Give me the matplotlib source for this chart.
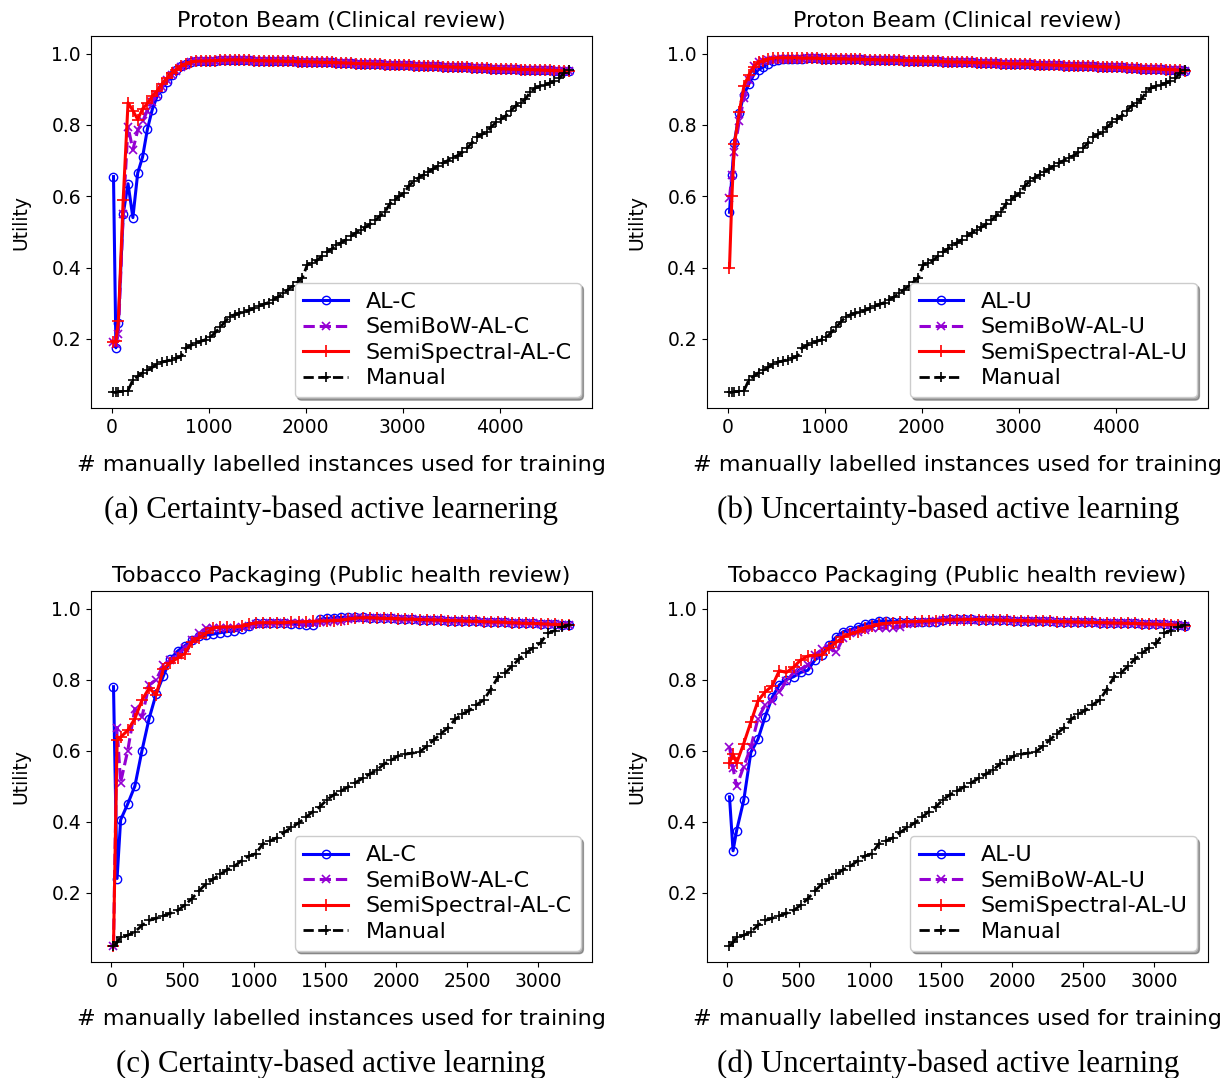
import matplotlib
matplotlib.use('Agg')
import matplotlib.pyplot as plt

# number of manually labelled instances at each step
pb_x = [15, 40] + list(range(65, 4716, 50))
tb_x = [15, 40] + list(range(65, 3216, 50))

# ---- Proton Beam ----
pb_manual = [0.050, 0.050, 0.052, 0.053, 0.055, 0.085, 0.095, 0.105, 0.112, 0.120,
             0.130, 0.135, 0.138, 0.142, 0.146, 0.152, 0.175, 0.182, 0.188, 0.193,
             0.198, 0.205, 0.218, 0.232, 0.248, 0.262, 0.268, 0.272, 0.276, 0.280,
             0.286, 0.292, 0.297, 0.302, 0.310, 0.318, 0.328, 0.338, 0.348, 0.360,
             0.372, 0.408, 0.413, 0.420, 0.432, 0.443, 0.452, 0.462, 0.470, 0.478,
             0.488, 0.497, 0.505, 0.513, 0.522, 0.532, 0.545, 0.555, 0.578, 0.590,
             0.600, 0.610, 0.630, 0.642, 0.652, 0.660, 0.668, 0.677, 0.685, 0.693,
             0.700, 0.707, 0.714, 0.723, 0.735, 0.750, 0.766, 0.773, 0.780, 0.795,
             0.807, 0.816, 0.826, 0.840, 0.853, 0.862, 0.872, 0.892, 0.903, 0.908,
             0.912, 0.917, 0.922, 0.930, 0.946, 0.953]

# certainty (first 17 steps), then plateau shared by the three AL curves
pb_alc_head = [0.655, 0.175, 0.245, 0.55, 0.635, 0.54, 0.665, 0.71, 0.788, 0.843,
               0.88, 0.904, 0.92, 0.94, 0.955, 0.965, 0.972]
pb_bowc_head = [0.19, 0.185, 0.215, 0.55, 0.795, 0.73, 0.785, 0.81, 0.84, 0.865,
                0.885, 0.905, 0.925, 0.94, 0.952, 0.962, 0.968]
pb_specc_head = [0.19, 0.195, 0.25, 0.59, 0.862, 0.84, 0.815, 0.845, 0.86, 0.88,
                 0.895, 0.915, 0.93, 0.945, 0.955, 0.965, 0.972]
pb_tail_c = [0.976, 0.978, 0.979, 0.979, 0.980, 0.980, 0.981, 0.981, 0.982, 0.982,
             0.982, 0.981, 0.981, 0.980, 0.980, 0.980, 0.979, 0.979, 0.979, 0.978,
             0.978, 0.978, 0.977, 0.977, 0.977, 0.976, 0.976, 0.975, 0.975, 0.975,
             0.974, 0.974, 0.973, 0.973, 0.972, 0.972, 0.971, 0.971, 0.970, 0.970,
             0.969, 0.969, 0.968, 0.968, 0.967, 0.967, 0.966, 0.966, 0.965, 0.965,
             0.964, 0.964, 0.963, 0.963, 0.962, 0.962, 0.961, 0.961, 0.960, 0.960,
             0.959, 0.959, 0.958, 0.958, 0.957, 0.957, 0.956, 0.956, 0.955, 0.955,
             0.955, 0.954, 0.954, 0.953, 0.953, 0.952, 0.952, 0.951, 0.951]

# uncertainty
pb_alu_head = [0.555, 0.66, 0.75, 0.833, 0.885, 0.915, 0.94, 0.955, 0.962, 0.972,
               0.98, 0.983, 0.985, 0.985, 0.986, 0.986, 0.986]
pb_bowu_head = [0.595, 0.66, 0.725, 0.81, 0.875, 0.925, 0.965, 0.975, 0.978, 0.982,
                0.983, 0.985, 0.985, 0.985, 0.986, 0.986, 0.986]
pb_specu_head = [0.40, 0.60, 0.745, 0.835, 0.91, 0.94, 0.962, 0.975, 0.98, 0.984,
                 0.987, 0.988, 0.988, 0.988, 0.988, 0.988, 0.987]
pb_tail_u = [0.987, 0.987, 0.987, 0.986, 0.986, 0.986, 0.985, 0.985, 0.985, 0.984,
             0.984, 0.984, 0.983, 0.983, 0.983, 0.982, 0.982, 0.981, 0.981, 0.981,
             0.980, 0.980, 0.980, 0.979, 0.979, 0.978, 0.978, 0.978, 0.977, 0.977,
             0.976, 0.976, 0.976, 0.975, 0.975, 0.974, 0.974, 0.974, 0.973, 0.973,
             0.972, 0.972, 0.971, 0.971, 0.971, 0.970, 0.970, 0.969, 0.969, 0.968,
             0.968, 0.967, 0.967, 0.966, 0.966, 0.966, 0.965, 0.965, 0.964, 0.964,
             0.963, 0.963, 0.962, 0.962, 0.961, 0.961, 0.960, 0.960, 0.959, 0.958,
             0.958, 0.957, 0.957, 0.956, 0.955, 0.955, 0.954, 0.953, 0.952]

# ---- Tobacco Packaging ----
tb_manual = [0.050, 0.060, 0.075, 0.080, 0.090, 0.108, 0.122, 0.128, 0.135, 0.142,
             0.150, 0.165, 0.183, 0.205, 0.225, 0.238, 0.252, 0.265, 0.275, 0.290,
             0.303, 0.310, 0.338, 0.346, 0.355, 0.370, 0.384, 0.396, 0.412, 0.428,
             0.442, 0.462, 0.476, 0.487, 0.498, 0.510, 0.522, 0.534, 0.545, 0.562,
             0.573, 0.585, 0.590, 0.593, 0.596, 0.612, 0.630, 0.648, 0.664, 0.688,
             0.703, 0.713, 0.729, 0.742, 0.772, 0.806, 0.818, 0.838, 0.858, 0.875,
             0.890, 0.903, 0.930, 0.938, 0.947, 0.954]

tb_alc_head = [0.78, 0.24, 0.405, 0.45, 0.50, 0.60, 0.69, 0.76, 0.81, 0.858,
               0.88, 0.895, 0.91, 0.922, 0.925, 0.928, 0.932, 0.935, 0.937, 0.942,
               0.952, 0.96, 0.958, 0.958, 0.958, 0.958, 0.957, 0.955, 0.953, 0.953,
               0.97, 0.972, 0.974, 0.975, 0.976, 0.976, 0.975, 0.974]
tb_bowc_head = [0.05, 0.665, 0.51, 0.60, 0.718, 0.695, 0.784, 0.80, 0.84, 0.855,
                0.87, 0.89, 0.91, 0.93, 0.945, 0.945, 0.946, 0.946, 0.946, 0.948,
                0.952, 0.955, 0.957, 0.958, 0.958, 0.958, 0.958, 0.958, 0.958, 0.958,
                0.962, 0.963, 0.964, 0.966, 0.97, 0.972, 0.973, 0.973]
tb_specc_head = [0.05, 0.63, 0.638, 0.657, 0.69, 0.742, 0.776, 0.757, 0.83, 0.848,
                 0.86, 0.873, 0.905, 0.918, 0.93, 0.945, 0.948, 0.948, 0.948, 0.95,
                 0.955, 0.96, 0.96, 0.96, 0.96, 0.96, 0.962, 0.962, 0.963, 0.964,
                 0.965, 0.965, 0.966, 0.967, 0.97, 0.973, 0.974, 0.974]
tb_tail_c = [0.973, 0.972, 0.972, 0.971, 0.970, 0.970, 0.969, 0.968, 0.968, 0.967,
             0.966, 0.966, 0.965, 0.964, 0.964, 0.963, 0.962, 0.962, 0.961, 0.960,
             0.959, 0.958, 0.958, 0.957, 0.956, 0.955, 0.954, 0.953]

tb_alu_head = [0.47, 0.318, 0.375, 0.46, 0.595, 0.632, 0.695, 0.75, 0.785, 0.80,
               0.808, 0.82, 0.826, 0.855, 0.87, 0.898, 0.92, 0.935, 0.94, 0.948,
               0.955, 0.96, 0.965, 0.965, 0.963, 0.963, 0.963, 0.963, 0.962, 0.962,
               0.963, 0.968, 0.97, 0.97, 0.97, 0.97, 0.969, 0.969]
tb_bowu_head = [0.61, 0.55, 0.50, 0.555, 0.61, 0.69, 0.728, 0.74, 0.765, 0.795,
                0.82, 0.83, 0.84, 0.87, 0.885, 0.89, 0.877, 0.918, 0.93, 0.935,
                0.94, 0.945, 0.945, 0.945, 0.945, 0.948, 0.955, 0.96, 0.962, 0.963,
                0.965, 0.967, 0.968, 0.968, 0.969, 0.969, 0.969, 0.968]
tb_specu_head = [0.565, 0.59, 0.565, 0.62, 0.68, 0.74, 0.765, 0.782, 0.825, 0.82,
                 0.835, 0.855, 0.866, 0.868, 0.87, 0.89, 0.905, 0.92, 0.928, 0.935,
                 0.945, 0.95, 0.955, 0.958, 0.96, 0.962, 0.963, 0.963, 0.964, 0.965,
                 0.966, 0.967, 0.968, 0.968, 0.969, 0.969, 0.969, 0.968]
tb_tail_u = [0.968, 0.967, 0.967, 0.966, 0.966, 0.965, 0.965, 0.964, 0.964, 0.963,
             0.963, 0.962, 0.962, 0.961, 0.961, 0.960, 0.960, 0.959, 0.959, 0.958,
             0.958, 0.957, 0.956, 0.956, 0.955, 0.954, 0.953, 0.952]

titles = ['Proton Beam (Clinical review)', 'Tobacco Packaging (Public health review)']
captions = ['(a) Certainty-based active learnering', '(b) Uncertainty-based active learning',
            '(c) Certainty-based active learning', '(d) Uncertainty-based active learning']
xlabel = '# manually labelled instances used for training'

panels = [
    # rect, x, al, bow, spectral, manual, suffix, title, xticks
    ([0.0737, 0.6211, 0.4070, 0.3458], pb_x, pb_alc_head + pb_tail_c, pb_bowc_head + pb_tail_c,
     pb_specc_head + pb_tail_c, pb_manual, 'C', titles[0], [0, 1000, 2000, 3000, 4000]),
    ([0.5741, 0.6211, 0.4070, 0.3458], pb_x, pb_alu_head + pb_tail_u, pb_bowu_head + pb_tail_u,
     pb_specu_head + pb_tail_u, pb_manual, 'U', titles[0], [0, 1000, 2000, 3000, 4000]),
    ([0.0737, 0.1076, 0.4070, 0.3444], tb_x, tb_alc_head + tb_tail_c, tb_bowc_head + tb_tail_c,
     tb_specc_head + tb_tail_c, tb_manual, 'C', titles[1], [0, 500, 1000, 1500, 2000, 2500, 3000]),
    ([0.5741, 0.1076, 0.4070, 0.3444], tb_x, tb_alu_head + tb_tail_u, tb_bowu_head + tb_tail_u,
     tb_specu_head + tb_tail_u, tb_manual, 'U', titles[1], [0, 500, 1000, 1500, 2000, 2500, 3000]),
]

fig = plt.figure(figsize=(12.31, 10.78), dpi=100)

for rect, x, al, bow, spec, man, suf, title, xt in panels:
    ax = fig.add_axes(rect)
    ax.plot(x, al, color='blue', lw=2.2, marker='o', ms=6, mfc='none', mew=1.0,
            label='AL-' + suf)
    ax.plot(x, bow, color='darkviolet', lw=2.2, ls='--', marker='x', ms=6, mew=1.2,
            label='SemiBoW-AL-' + suf)
    ax.plot(x, spec, color='red', lw=2.2, marker='+', ms=8, mew=1.2,
            label='SemiSpectral-AL-' + suf)
    ax.plot(x, man, color='black', lw=2.0, ls='--', marker='+', ms=7, mew=1.2,
            label='Manual')
    ax.set_ylim(0.005, 1.05)
    ax.set_yticks([0.2, 0.4, 0.6, 0.8, 1.0])
    ax.set_xticks(xt)
    ax.tick_params(labelsize=13.5)
    ax.set_title(title, fontsize=16)
    ax.set_xlabel(xlabel, fontsize=16, labelpad=13)
    ax.set_ylabel('Utility', fontsize=13.5, labelpad=15)
    ax.legend(loc='lower right', fontsize=16, shadow=True, labelspacing=0.25,
              borderpad=0.4)

cap_pos = [(0.269, 0.5195), (0.770, 0.5195), (0.269, 0.0056), (0.770, 0.0056)]
for (cx, cy), cap in zip(cap_pos, captions):
    fig.text(cx, cy, cap, ha='center', va='baseline', fontsize=22.3,
             family='Liberation Serif')

fig.savefig('out.png', dpi=100)
